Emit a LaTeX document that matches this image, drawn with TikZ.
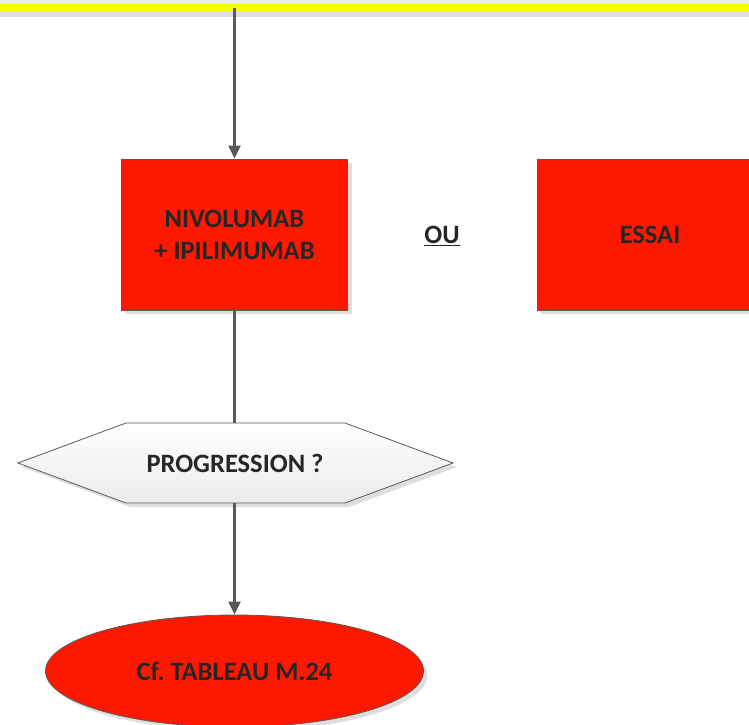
\documentclass[tikz,border=0pt]{standalone}
\usepackage{fontspec}
\setmainfont{Carlito}
\usetikzlibrary{arrows.meta,shapes.geometric,shadows}
\definecolor{boxred}{HTML}{FF1800}
\definecolor{txt}{HTML}{262626}
\definecolor{lin}{HTML}{595959}
\definecolor{band}{HTML}{F2FF00}
\tikzset{
  lbl/.style={font=\fontsize{26.5}{32}\selectfont\bfseries, text=txt, align=center},
  redbox/.style={draw=gray!70!black, line width=0.8pt, fill=boxred, minimum width=226pt, minimum height=151pt,
    drop shadow={shadow xshift=4pt, shadow yshift=-4pt, fill=black, opacity=0.13}},
  conn/.style={draw=lin, line width=2.2pt},
  arr/.style={conn, -{Triangle[length=13pt,width=12pt]}},
}
\begin{document}
\frenchspacing
\begin{tikzpicture}[x=1pt,y=-1pt]
\useasboundingbox (0,0) rectangle (749,724);
% top band
\fill[black!7] (0,0) rectangle (749,4);
\fill[black!13] (0,12) rectangle (749,17);
\fill[band] (0,4) rectangle (749,12);
\coordinate (start) at (234.5,8);

\node[redbox, lbl] (nivo) at (234.5,234.5) {NIVOLUMAB\\+ IPILIMUMAB};
\node[redbox, lbl] (essai) at (650,234.5) {ESSAI};
\node[lbl] (ou) at (442,236) {\underline{OU}};

\draw[arr] (start) -- (nivo.north);

% hexagon
\coordinate (hl) at (18,463);
\coordinate (htl) at (126,423);
\coordinate (htop) at (234.5,423);
\coordinate (htr) at (345,423);
\coordinate (hr) at (453,463);
\coordinate (hbr) at (345,503);
\coordinate (hbot) at (234.5,503);
\coordinate (hbl) at (126,503);
\fill[black, opacity=0.13] ([shift={(4,4)}]hl) -- ([shift={(4,4)}]htl) -- ([shift={(4,4)}]htr) -- ([shift={(4,4)}]hr) -- ([shift={(4,4)}]hbr) -- ([shift={(4,4)}]hbl) -- cycle;
\shade[top color=white, bottom color=black!8] (hl) -- (htl) -- (htr) -- (hr) -- (hbr) -- (hbl) -- cycle;
\draw[gray!70!black, line width=0.8pt] (hl) -- (htl) -- (htr) -- (hr) -- (hbr) -- (hbl) -- cycle;
\node[lbl] (prog) at (235,463) {PROGRESSION ?};

\draw[conn] (nivo.south) -- (htop);

% ellipse
\node[ellipse, draw=gray!70!black, line width=0.8pt, fill=boxred, minimum width=378pt, minimum height=112pt, inner sep=0pt,
  drop shadow={shadow xshift=4pt, shadow yshift=-4pt, fill=black, opacity=0.13}, lbl] (tab) at (234.5,671) {Cf. TABLEAU M.24};

\draw[arr] (hbot) -- (tab.north);
\end{tikzpicture}
\end{document}
